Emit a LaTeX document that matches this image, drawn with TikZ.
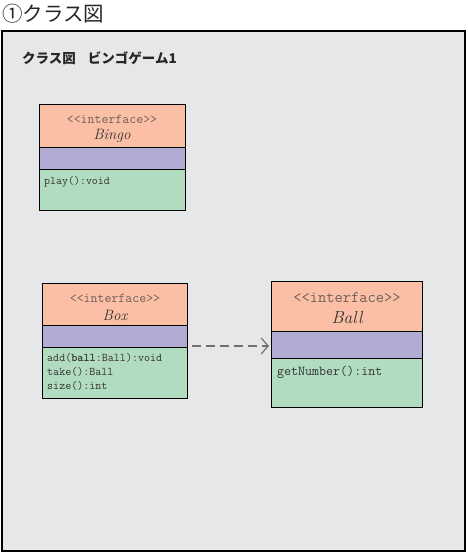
\documentclass[tikz,border=0pt]{standalone}
\usepackage{fontspec}
\newfontfamily\jp{Noto Sans CJK JP}
\usetikzlibrary{arrows.meta}
\definecolor{bg}{HTML}{E6E7E9}
\definecolor{hdr}{HTML}{FBBFA5}
\definecolor{att}{HTML}{B0ACD4}
\definecolor{ops}{HTML}{B2DCC0}
\definecolor{stc}{HTML}{6E6058}
\definecolor{mtc}{HTML}{333333}
\definecolor{arr}{HTML}{707070}
\begin{document}
\begin{tikzpicture}[x=1pt,y=-1pt,
  part/.style={draw=black,line width=1pt},
  stereo/.style={text=stc,font=\ttfamily\fontsize{#1}{#1}\selectfont,inner sep=0pt},
  cname/.style={text=black!80,font=\rmfamily\itshape\fontsize{#1}{#1}\selectfont,inner sep=0pt},
  meth/.style={text=mtc,font=\ttfamily\fontsize{#1}{13.8}\selectfont,inner sep=0pt,anchor=north west,align=left}]
\useasboundingbox (0,0) rectangle (467,553);
\node[anchor=west,inner sep=0pt,text=black!85,font=\jp\fontsize{20.5}{20.5}\selectfont] (title) at (2,14) {①クラス図};
\draw[fill=bg,line width=1.5pt] (2,31) rectangle (465,551);
\node[anchor=west,inner sep=0pt,text=black!85,font=\jp\bfseries\fontsize{13.5}{13.5}\selectfont] (sub) at (22,58) {クラス図\hspace{12pt}ビンゴゲーム1};
% Bingo
\draw[part,fill=hdr] (39,105) rectangle (185,148);
\draw[part,fill=att] (39,148) rectangle (185,170);
\draw[part,fill=ops] (39,170) rectangle (185,210);
\node[stereo=13.5] (bst) at (112,119) {<{}<interface>{}>};
\node[cname=15] (bnm) at (112,136) {Bingo};
\node[meth=11.6] (bop) at (44,176) {play():void};
% Box
\draw[part,fill=hdr] (42,283) rectangle (187,325);
\draw[part,fill=att] (42,325) rectangle (187,347);
\draw[part,fill=ops] (42,347) rectangle (187,398);
\node[stereo=13.5] (xst) at (115,298) {<{}<interface>{}>};
\node[cname=15] (xnm) at (115,315) {Box};
\node[meth=11.7] (xop) at (47,353.5) {add(\textbf{ball}:Ball):void\\take():Ball\\size():int};
% Ball
\draw[part,fill=hdr] (271,281) rectangle (422,331);
\draw[part,fill=att] (271,331) rectangle (422,358);
\draw[part,fill=ops] (271,358) rectangle (422,407);
\node[stereo=16] (lst) at (347,298) {<{}<interface>{}>};
\node[cname=17.5] (lnm) at (347,318) {Ball};
\node[meth=13.6] (lop) at (277,366) {getNumber():int};
% dependency
\coordinate (s) at (192,346);
\coordinate (t) at (269,346);
\draw[arr,line width=1.2pt,dash pattern=on 9pt off 5pt,-{Straight Barb[length=7pt,width=16pt,line width=1.2pt]}] (s) -- (t);
\end{tikzpicture}
\end{document}
